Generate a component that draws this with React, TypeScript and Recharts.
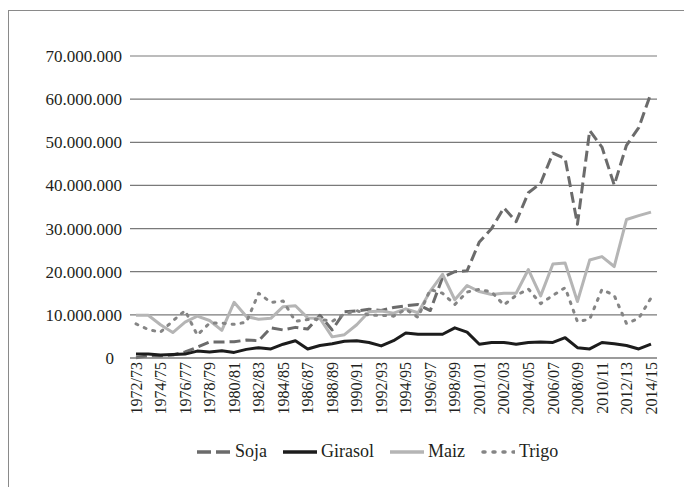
import React from 'react';
import { LineChart, Line, XAxis, YAxis, CartesianGrid } from 'recharts';

const seasons = [
  "1972/73","1973/74","1974/75","1975/76","1976/77","1977/78","1978/79","1979/80",
  "1980/81","1981/82","1982/83","1983/84","1984/85","1985/86","1986/87","1987/88",
  "1988/89","1989/90","1990/91","1991/92","1992/93","1993/94","1994/95","1995/96",
  "1996/97","1997/98","1998/99","1999/00","2001/01","2001/02","2002/03","2003/04",
  "2004/05","2005/06","2006/07","2007/08","2008/09","2009/10","2010/11","2011/12",
  "2012/13","2013/14","2014/15"
];

// millions of tonnes
const soja = [
  0.08, 0.5, 0.49, 0.69, 1.4, 2.5, 3.7, 3.7, 3.77, 4.15, 4.0, 7.0, 6.5, 7.1, 6.7, 9.9,
  6.5, 10.7, 10.9, 11.3, 11.0, 11.7, 12.1, 12.4, 11.0, 18.7, 20.0, 20.2, 26.9, 30.0,
  34.8, 31.6, 38.3, 40.5, 47.5, 46.2, 31.0, 52.7, 48.9, 40.1, 49.3, 53.4, 61.4
];
const girasol = [
  0.9, 0.9, 0.7, 0.8, 0.9, 1.6, 1.4, 1.7, 1.3, 2.0, 2.4, 2.1, 3.2, 4.0, 2.1, 2.9,
  3.3, 3.9, 4.0, 3.6, 2.8, 4.0, 5.8, 5.5, 5.5, 5.5, 7.0, 6.0, 3.2, 3.6, 3.6, 3.2,
  3.6, 3.7, 3.6, 4.7, 2.4, 2.1, 3.6, 3.3, 2.9, 2.1, 3.2
];
const maiz = [
  9.9, 9.9, 7.7, 5.9, 8.3, 9.7, 8.7, 6.4, 12.9, 9.6, 9.0, 9.2, 11.9, 12.1, 9.3, 9.2,
  4.9, 5.4, 7.7, 10.7, 10.9, 10.4, 11.4, 10.5, 15.5, 19.4, 13.5, 16.8, 15.4, 14.7,
  15.0, 15.0, 20.5, 14.4, 21.8, 22.0, 13.1, 22.7, 23.5, 21.2, 32.1, 33.0, 33.8
];
const trigo = [
  7.9, 6.6, 6.0, 8.6, 11.0, 5.3, 8.1, 8.1, 7.8, 8.3, 15.0, 12.9, 13.2, 8.5, 8.9, 9.0,
  8.5, 10.2, 11.0, 9.9, 9.9, 9.7, 11.3, 9.4, 15.9, 15.0, 12.4, 15.3, 15.9, 15.3,
  12.3, 14.5, 16.0, 12.6, 14.5, 16.3, 8.4, 9.0, 15.9, 14.5, 8.0, 9.2, 13.9
];

const yTicks = [0, 10, 20, 30, 40, 50, 60, 70];

const seriesNames = ["Soja", "Girasol", "Maiz", "Trigo"];
const seriesKeys = ["soja", "girasol", "maiz", "trigo"];

const data = seasons.map((s, i) => ({
  season: s,
  soja: soja[i],
  girasol: girasol[i],
  maiz: maiz[i],
  trigo: trigo[i],
}));

const FONT = '"Liberation Serif", "Times New Roman", serif';
const TEXT = '#231f20';

const styles: Record<string, { stroke: string; width: number; dash?: string; cap?: 'round' | 'butt'; legendDash?: string }> = {
  soja: { stroke: '#6b6b6b', width: 3, dash: '11 5', cap: 'butt', legendDash: '14 5' },
  girasol: { stroke: '#1c1c1c', width: 3 },
  maiz: { stroke: '#b5b5b5', width: 3 },
  trigo: { stroke: '#858585', width: 3, dash: '2 7', cap: 'round', legendDash: '2 8' },
};

const fmt = (v: number) =>
  v === 0 ? '0' : String(Math.round(v * 1000000)).replace(/\B(?=(\d{3})+(?!\d))/g, '.');

const YTick = (props: any) => {
  const { x, y, payload } = props;
  const shift = payload.value === 0 ? 8 : 0;
  return (
    <text x={x - shift} y={y} dy="0.35em" textAnchor="end" fill={TEXT} style={{ fontFamily: FONT, fontSize: 17 }}>
      {fmt(payload.value)}
    </text>
  );
};

const XTick = (props: any) => {
  const { x, y, payload } = props;
  return (
    <text
      transform={`translate(${x},${y}) rotate(-90)`}
      x={-4}
      y={0}
      dy="0.35em"
      textAnchor="end"
      fill={TEXT}
      style={{ fontFamily: FONT, fontSize: 16 }}
    >
      {payload.value}
    </text>
  );
};

export default function App() {
  return (
    <div style={{ position: 'absolute', left: 0, top: 0, width: 684, height: 487, overflow: 'hidden', background: '#fff' }}>
      <div style={{ position: 'absolute', left: 8, top: 10, width: 720, height: 520, border: '1.5px solid #8a8a8a' }} />
      <div style={{ position: 'absolute', left: 0, top: 0 }}>
        <LineChart width={684} height={487} data={data} margin={{ top: 56, right: 27, left: 0, bottom: 69 }}>
          <CartesianGrid vertical={false} stroke="#7a7a7a" strokeWidth={1.2} />
          <XAxis
            dataKey="season"
            interval={1}
            tickLine={false}
            tickSize={0}
            tickMargin={0}
            axisLine={{ stroke: '#7a7a7a', strokeWidth: 1.2 }}
            padding={{ left: 6, right: 6 }}
            height={60}
            tick={<XTick />}
          />
          <YAxis
            width={130}
            domain={[0, 70]}
            ticks={yTicks}
            interval={0}
            axisLine={false}
            tickLine={false}
            tick={<YTick />}
          />
          {seriesKeys.map((k) => (
            <Line
              key={k}
              type="linear"
              dataKey={k}
              stroke={styles[k].stroke}
              strokeWidth={styles[k].width}
              strokeDasharray={styles[k].dash}
              strokeLinecap={styles[k].cap || 'butt'}
              strokeLinejoin="round"
              dot={false}
              activeDot={false}
              isAnimationActive={false}
            />
          ))}
        </LineChart>
      </div>
      <div
        style={{
          position: 'absolute',
          left: 197,
          top: 441,
          display: 'flex',
          alignItems: 'center',
          fontFamily: FONT,
          fontSize: 18,
          color: TEXT,
          whiteSpace: 'nowrap',
        }}
      >
        {seriesKeys.map((k, i) => (
          <div key={k} style={{ display: 'flex', alignItems: 'center', marginRight: 16 }}>
            <svg width={34} height={10} style={{ marginRight: 4 }}>
              <line
                x1={styles[k].cap === 'round' ? 2 : 0}
                y1={5}
                x2={34}
                y2={5}
                stroke={styles[k].stroke}
                strokeWidth={3.5}
                strokeDasharray={styles[k].legendDash}
                strokeLinecap={styles[k].cap || 'butt'}
              />
            </svg>
            <span>{seriesNames[i]}</span>
          </div>
        ))}
      </div>
    </div>
  );
}
